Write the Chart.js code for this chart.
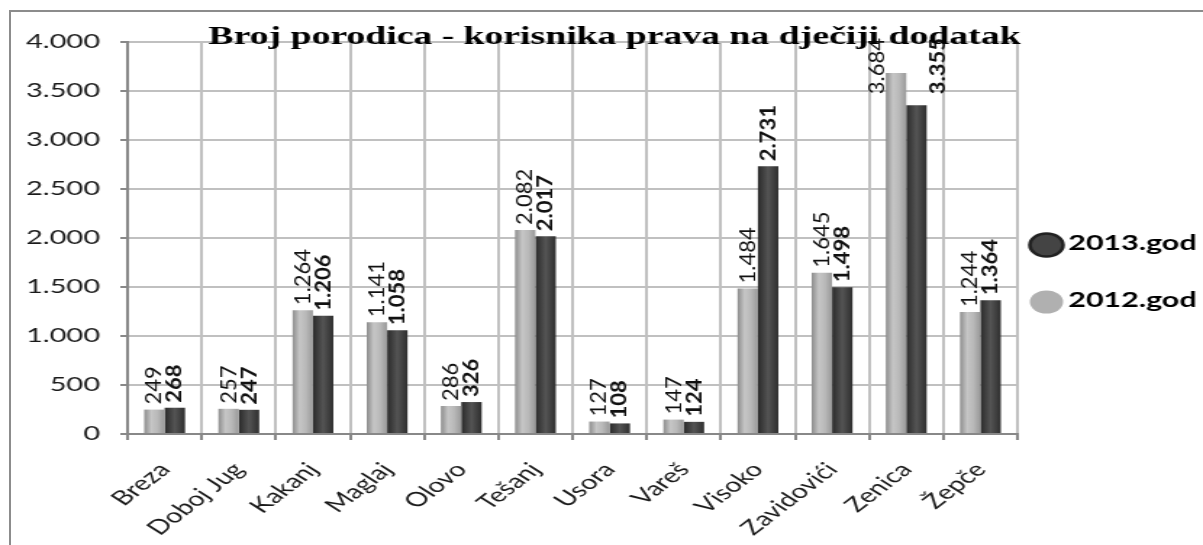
<!DOCTYPE html>
<html>
<head>
<meta charset="utf-8">
<script src="https://cdn.jsdelivr.net/npm/chart.js@4"></script>
<style>
  html, body { margin: 0; padding: 0; background: #fff; overflow: hidden; }
  #wrap { position: relative; width: 1203px; height: 545px; overflow: hidden; }
  #frame { position: absolute; left: 9px; top: 10px; width: 1400px; height: 800px; border: 2px solid #8c8c8c; }
  #chart { position: absolute; left: 0; top: 0; width: 1203px !important; height: 545px !important; }
</style>
</head>
<body>
<div id="wrap">
  <div id="frame"></div>
  <canvas id="chart" width="830" height="545"></canvas>
</div>
<script>
const titleText = "Broj porodica - korisnika prava na dječiji dodatak";

const municipalities = [
  "Breza", "Doboj Jug", "Kakanj", "Maglaj", "Olovo", "Tešanj",
  "Usora", "Vareš", "Visoko", "Zavidovići", "Zenica", "Žepče",
];

const families2012 = [249, 257, 1264, 1141, 286, 2082, 127, 147, 1484, 1645, 3684, 1244];
const families2013 = [268, 247, 1206, 1058, 326, 2017, 108, 124, 2731, 1498, 3355, 1364];

const seriesNames = ["2012.god", "2013.god"];
const yTicks = [0, 500, 1000, 1500, 2000, 2500, 3000, 3500, 4000];

const CAT_PCT = 0.55;

function formatNum(v) {
  return String(Math.round(v)).replace(/\B(?=(\d{3})+(?!\d))/g, ".");
}

function barFill(ctx, light) {
  const flat = light ? "#b0b0b0" : "#3a3a3a";
  if (ctx.type !== "data") return flat;
  const xs = ctx.chart.scales.x;
  if (!xs || !xs.width) return flat;
  const center = xs.getPixelForValue(ctx.dataIndex);
  const catW = xs.width / municipalities.length;
  const bw = (catW * CAT_PCT) / 2;
  const left = center - (catW * CAT_PCT) / 2 + ctx.datasetIndex * bw;
  const g = ctx.chart.ctx.createLinearGradient(left, 0, left + bw, 0);
  if (light) {
    g.addColorStop(0, "#8c8c8c");
    g.addColorStop(0.35, "#c6c6c6");
    g.addColorStop(0.65, "#b9b9b9");
    g.addColorStop(1, "#999999");
  } else {
    g.addColorStop(0, "#2a2a2a");
    g.addColorStop(0.5, "#545454");
    g.addColorStop(1, "#2e2e2e");
  }
  return g;
}

const valueLabels = {
  id: "valueLabels",
  afterDatasetsDraw(chart) {
    const c = chart.ctx;
    const area = chart.chartArea;
    chart.data.datasets.forEach((ds, di) => {
      const meta = chart.getDatasetMeta(di);
      c.save();
      c.fillStyle = "#111";
      c.font = (di === 1 ? "bold " : "") + "22px Lato";
      c.textBaseline = "middle";
      meta.data.forEach((el, i) => {
        const text = formatNum(ds.data[i]);
        const len = c.measureText(text).width;
        const gap = 5;
        c.save();
        if (el.y - gap - len < area.top + 10) {
          const shift = di === 0 ? -el.width * 0.95 : el.width * 1.05;
          c.translate(el.x + shift, area.top - 4);
          c.rotate(-Math.PI / 2);
          c.scale(1, 0.68);
          c.textAlign = "right";
        } else {
          c.translate(el.x, el.y - gap);
          c.rotate(-Math.PI / 2);
          c.scale(1, 0.68);
          c.textAlign = "left";
        }
        c.fillText(text, 0, 0);
        c.restore();
      });
      c.restore();
    });
  },
};

const titleAndLegend = {
  id: "titleAndLegend",
  afterDraw(chart) {
    const c = chart.ctx;
    c.save();
    c.fillStyle = "#000";
    c.font = "bold 26px 'Liberation Serif'";
    c.textAlign = "center";
    c.textBaseline = "alphabetic";
    c.fillText(titleText, 424, 44);

    // legend, 2013 first as in the original
    const items = [
      { label: seriesNames[1], fill: "#444", stroke: "#222", y: 243 },
      { label: seriesNames[0], fill: "#b0b0b0", stroke: null, y: 300 },
    ];
    items.forEach((it) => {
      c.beginPath();
      c.arc(722, it.y + 2, 11.5, 0, Math.PI * 2);
      c.fillStyle = it.fill;
      c.fill();
      if (it.stroke) {
        c.lineWidth = 2.5;
        c.strokeStyle = it.stroke;
        c.stroke();
      }
      c.fillStyle = "#000";
      c.font = "bold 21px Lato";
      c.textAlign = "left";
      c.textBaseline = "middle";
      c.fillText(it.label, 737, it.y);
    });
    c.restore();
  },
};

new Chart(document.getElementById("chart"), {
  type: "bar",
  data: {
    labels: municipalities,
    datasets: [
      {
        label: seriesNames[0],
        data: families2012,
        backgroundColor: (ctx) => barFill(ctx, true),
        borderWidth: 0,
        categoryPercentage: CAT_PCT,
        barPercentage: 1,
      },
      {
        label: seriesNames[1],
        data: families2013,
        backgroundColor: (ctx) => barFill(ctx, false),
        borderWidth: 0,
        categoryPercentage: CAT_PCT,
        barPercentage: 1,
      },
    ],
  },
  options: {
    responsive: false,
    devicePixelRatio: 1,
    animation: false,
    layout: { padding: { top: 42, left: 0, right: 128, bottom: 0 } },
    plugins: {
      legend: { display: false },
      title: { display: false },
      tooltip: { enabled: false },
    },
    scales: {
      x: {
        grid: {
          color: "#c0c0c0",
          lineWidth: 2,
          offset: true,
          tickLength: 6,
          tickColor: "#888",
        },
        border: { color: "#888", width: 2 },
        ticks: {
          color: "#1a1a1a",
          font: { family: "Lato", size: 20 },
          minRotation: 48,
          maxRotation: 48,
          padding: 18,
        },
        afterFit(scale) {
          scale.height = 111;
        },
      },
      y: {
        min: 0,
        max: 4000,
        afterBuildTicks(scale) {
          scale.ticks = yTicks.map((v) => ({ value: v }));
        },
        grid: {
          color: "#c0c0c0",
          lineWidth: 2,
          tickLength: 5,
          tickColor: "#888",
        },
        border: { color: "#888", width: 2 },
        ticks: {
          color: "#1a1a1a",
          font: { family: "Lato", size: 20 },
          padding: 14,
          callback: (v) => formatNum(v),
        },
        afterFit(scale) {
          scale.width = 88;
        },
      },
    },
  },
  plugins: [valueLabels, titleAndLegend],
});
</script>
</body>
</html>
